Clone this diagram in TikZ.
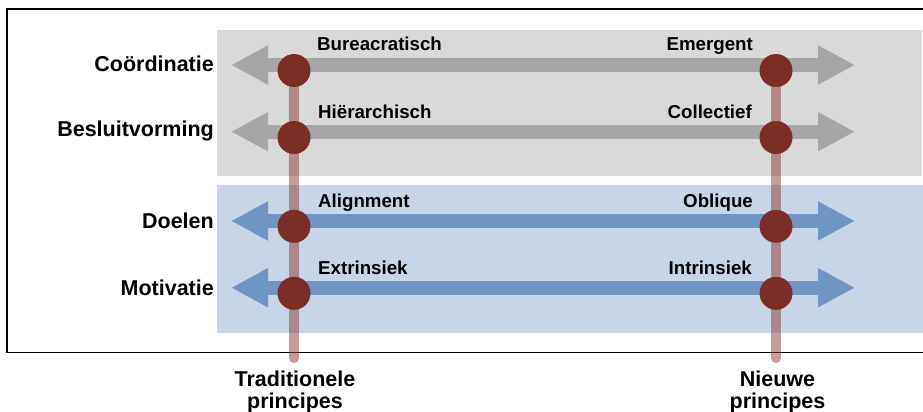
\documentclass[tikz,border=0pt]{standalone}
\usepackage{fontspec}
\setmainfont{Liberation Sans}
\usetikzlibrary{arrows.meta}

\definecolor{panelgray}{HTML}{D9D9D9}
\definecolor{arrowgray}{HTML}{A6A6A6}
\definecolor{panelblue}{HTML}{C8D5E6}
\definecolor{arrowblue}{HTML}{7095C2}
\definecolor{dotred}{HTML}{7B2E27}
\definecolor{stemred}{HTML}{8C3A35}

\begin{document}
\begin{tikzpicture}[x=1pt,y=-1pt,
  axisline/.style={line width=14pt,
    {Triangle[length=37pt,width=36.6pt]}-{Triangle[length=37pt,width=36.6pt]}},
  grayaxis/.style={axisline, draw=arrowgray},
  blueaxis/.style={axisline, draw=arrowblue},
  stemline/.style={line width=10pt, line cap=round, draw=stemred, draw opacity=0.5},
  dotnode/.style={circle, fill=dotred, minimum size=33pt, inner sep=0pt},
  rowlab/.style={font=\bfseries\fontsize{21.5}{24}\selectfont, inner sep=0pt, anchor=base east},
  polelab/.style={font=\bfseries\fontsize{18.7}{21}\selectfont, inner sep=0pt},
  footlab/.style={font=\bfseries\fontsize{21.5}{24}\selectfont, inner sep=0pt, anchor=base}
]
\useasboundingbox (0,0) rectangle (923,412);

% outer frame (right side runs off the page)
\draw[line width=1.5pt] (7,9) rectangle (940,352.5);

% background panels
\fill[panelgray] (217,30) rectangle (922,176);
\fill[panelblue] (217,185) rectangle (930,333);

% end points of the four double arrows
\coordinate (a1l) at (231,65);    \coordinate (a1r) at (855,65);
\coordinate (a2l) at (231,131.7); \coordinate (a2r) at (855,131.7);
\coordinate (a3l) at (231,221);   \coordinate (a3r) at (855,221);
\coordinate (a4l) at (231,287.7); \coordinate (a4r) at (855,287.7);

\draw[grayaxis] (a1l) -- (a1r);
\draw[grayaxis] (a2l) -- (a2r);
\draw[blueaxis] (a3l) -- (a3r);
\draw[blueaxis] (a4l) -- (a4r);

% dots on the traditional and new axes
\coordinate (tbot) at (294,358);
\coordinate (nbot) at (776,358);
\path (294,70.5) coordinate (t1) (294,137.5) coordinate (t2)
      (294,226.3) coordinate (t3) (294,293.3) coordinate (t4)
      (776,70.5) coordinate (n1) (776,137.5) coordinate (n2)
      (776,226.3) coordinate (n3) (776,293.3) coordinate (n4);

\draw[stemline] (t1) -- (tbot);
\draw[stemline] (n1) -- (nbot);

\foreach \p in {t1,t2,t3,t4,n1,n2,n3,n4}
  \node[dotnode] (d\p) at (\p) {};

% row labels
\node[rowlab] (lcoord) at (214,71)    {Coördinatie};
\node[rowlab] (lbesl)  at (214,136.7) {Besluitvorming};
\node[rowlab] (ldoel)  at (214,228.3) {Doelen};
\node[rowlab] (lmotiv) at (214,295)   {Motivatie};

% pole labels
\node[polelab, anchor=base west] (p1l) at (317,51)  {Bureacratisch};
\node[polelab, anchor=base east] (p1r) at (753,51)  {Emergent};
\node[polelab, anchor=base west] (p2l) at (318,118) {Hiërarchisch};
\node[polelab, anchor=base east] (p2r) at (752,118) {Collectief};
\node[polelab, anchor=base west] (p3l) at (318,207) {Alignment};
\node[polelab, anchor=base east] (p3r) at (753,207) {Oblique};
\node[polelab, anchor=base west] (p4l) at (318,274) {Extrinsiek};
\node[polelab, anchor=base east] (p4r) at (752,274) {Intrinsiek};

% axis captions
\node[footlab] (ft1) at (295,386.7) {Traditionele};
\node[footlab] (ft2) at (295,408.3) {principes};
\node[footlab] (fn1) at (777.5,386.7) {Nieuwe};
\node[footlab] (fn2) at (777.5,408.3) {principes};
\end{tikzpicture}
\end{document}
